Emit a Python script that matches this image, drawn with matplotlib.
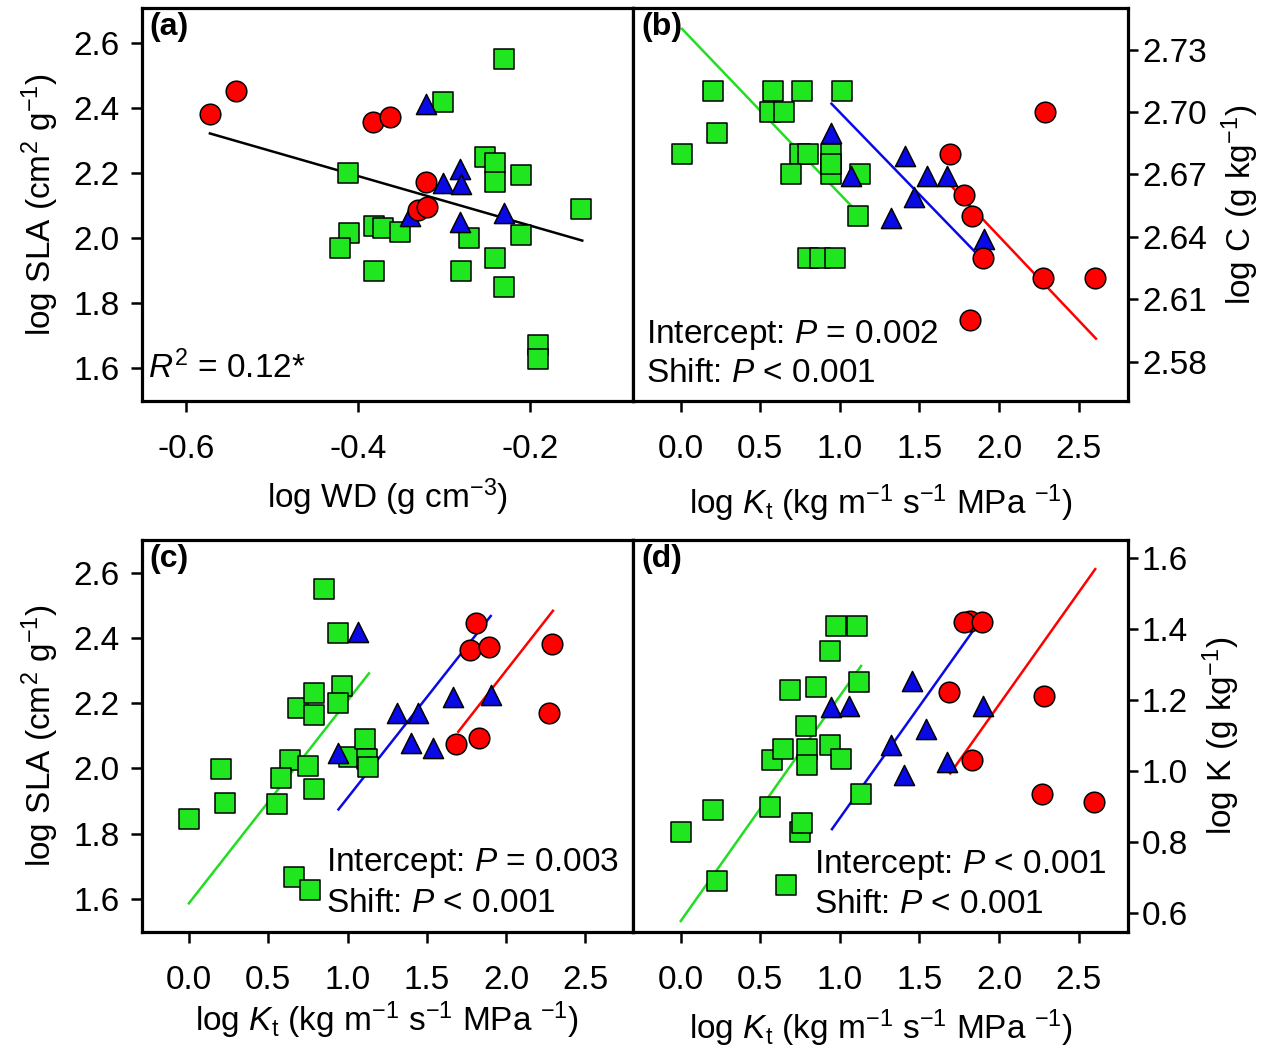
import numpy as np
import matplotlib
matplotlib.use('Agg')
import matplotlib.pyplot as plt

plt.rcParams['font.family'] = ['Liberation Sans', 'DejaVu Sans']
plt.rcParams['mathtext.fontset'] = 'custom'
plt.rcParams['mathtext.rm'] = 'Liberation Sans'
plt.rcParams['mathtext.it'] = 'Liberation Sans:italic'
plt.rcParams['mathtext.bf'] = 'Liberation Sans:bold'

# ---- panel (a): log SLA vs log WD ----
a_red_x = [-0.572, -0.542, -0.382, -0.362, -0.321, -0.330, -0.320]
a_red_y = [2.383, 2.453, 2.357, 2.373, 2.173, 2.086, 2.094]
a_blue_x = [-0.321, -0.301, -0.281, -0.280, -0.339, -0.281, -0.230]
a_blue_y = [2.414, 2.168, 2.214, 2.166, 2.068, 2.050, 2.076]
a_green_x = [-0.230, -0.301, -0.411, -0.252, -0.241, -0.241, -0.210, -0.140,
             -0.381, -0.371, -0.351, -0.410, -0.421, -0.271, -0.210, -0.381,
             -0.280, -0.241, -0.230, -0.190, -0.190]
a_green_y = [2.552, 2.419, 2.199, 2.250, 2.232, 2.173, 2.194, 2.088,
             2.037, 2.030, 2.020, 2.015, 1.968, 1.999, 2.009, 1.897,
             1.897, 1.938, 1.849, 1.672, 1.628]
a_fit_x = [-0.572, -0.139]
a_fit_y = [2.322, 1.992]

# ---- panel (b): log C vs log Kt ----
b_green_x = [0.005, 0.204, 0.229, 0.578, 0.764, 1.013, 0.560, 0.649, 0.751,
             0.802, 0.942, 0.692, 0.942, 1.128, 1.115, 0.802, 0.878, 0.967,
             0.947]
b_green_y = [2.680, 2.710, 2.690, 2.710, 2.710, 2.710, 2.700, 2.700, 2.680,
             2.680, 2.680, 2.670, 2.670, 2.670, 2.650, 2.630, 2.630, 2.630,
             2.675]
b_blue_x = [1.069, 0.947, 1.408, 1.548, 1.675, 1.464, 1.324, 1.904]
b_blue_y = [2.669, 2.690, 2.679, 2.669, 2.669, 2.659, 2.649, 2.639]
b_red_x = [2.291, 1.693, 1.782, 1.833, 1.897, 2.273, 2.602, 1.815]
b_red_y = [2.700, 2.680, 2.660, 2.650, 2.630, 2.620, 2.620, 2.600]
b_fit_green_x = [0.008, 1.082]
b_fit_green_y = [2.740, 2.654]
b_fit_blue_x = [0.947, 1.909]
b_fit_blue_y = [2.704, 2.628]
b_fit_red_x = [1.693, 2.609]
b_fit_red_y = [2.665, 2.591]

# ---- panel (c): log SLA vs log Kt ----
c_green_x = [0.000, 0.200, 0.225, 0.853, 0.943, 0.968, 0.943, 0.686, 0.789,
             0.789, 0.640, 0.579, 0.558, 0.750, 0.789, 1.007, 1.109, 1.122,
             1.130, 0.661, 0.763]
c_green_y = [1.846, 1.997, 1.894, 2.549, 2.416, 2.252, 2.199, 2.184, 2.232,
             2.163, 2.025, 1.969, 1.892, 2.007, 1.938, 2.036, 2.089, 2.030,
             2.003, 1.667, 1.627]
c_blue_x = [0.943, 1.066, 1.314, 1.442, 1.665, 1.903, 1.399, 1.537]
c_blue_y = [2.046, 2.419, 2.171, 2.171, 2.220, 2.225, 2.079, 2.061]
c_red_x = [1.808, 1.775, 1.890, 2.287, 2.269, 1.685, 1.831]
c_red_y = [2.447, 2.363, 2.371, 2.381, 2.171, 2.076, 2.092]
c_fit_green_x = [0.000, 1.135]
c_fit_green_y = [1.586, 2.291]
c_fit_blue_x = [0.943, 1.903]
c_fit_blue_y = [1.874, 2.467]
c_fit_red_x = [1.698, 2.295]
c_fit_red_y = [2.112, 2.483]

# ---- panel (d): log K vs log Kt ----
d_green_x = [0.000, 0.204, 0.229, 0.560, 0.662, 0.573, 0.644, 0.687, 0.848,
             0.789, 0.794, 0.794, 0.751, 0.764, 0.937, 1.006, 0.937, 0.973,
             1.107, 1.120, 1.133]
d_green_y = [0.829, 0.890, 0.689, 0.899, 0.679, 1.030, 1.061, 1.229, 1.238,
             1.128, 1.061, 1.016, 0.829, 0.852, 1.072, 1.033, 1.338, 1.408,
             1.408, 1.250, 0.936]
d_blue_x = [0.942, 1.056, 1.451, 1.540, 1.324, 1.400, 1.673, 1.902]
d_blue_y = [1.179, 1.184, 1.254, 1.119, 1.074, 0.988, 1.025, 1.184]
d_red_x = [1.815, 1.777, 1.892, 1.688, 1.833, 2.284, 2.271, 2.597]
d_red_y = [1.422, 1.420, 1.420, 1.223, 1.030, 1.210, 0.934, 0.913]
d_fit_green_x = [0.000, 1.133]
d_fit_green_y = [0.577, 1.296]
d_fit_blue_x = [0.950, 1.909]
d_fit_blue_y = [0.836, 1.441]
d_fit_red_x = [1.693, 2.604]
d_fit_red_y = [0.993, 1.569]

kt_ticks = [0.0, 0.5, 1.0, 1.5, 2.0, 2.5]
kt_labels = ['0.0', '0.5', '1.0', '1.5', '2.0', '2.5']
wd_ticks = [-0.6, -0.4, -0.2]
wd_labels = ['-0.6', '-0.4', '-0.2']
sla_ticks = [1.6, 1.8, 2.0, 2.2, 2.4, 2.6]
c_ticks = [2.58, 2.61, 2.64, 2.67, 2.70, 2.73]
k_ticks = [0.6, 0.8, 1.0, 1.2, 1.4, 1.6]

GREEN = '#1FE61F'
RED = '#FF0000'
BLUE = '#0A0AE6'
LINE_GREEN = '#22DD22'
FS = 24
KT_LABEL = r'log $K_{\mathrm{t}}$ (kg m$^{-1}$ s$^{-1}$ MPa $^{-1}$)'


def style_axes(ax, right=False):
    for s in ax.spines.values():
        s.set_linewidth(2.3)
    ax.tick_params(direction='out', length=8, width=1.8, labelsize=FS)
    ax.tick_params(axis='x', top=False, pad=16)
    if right:
        ax.yaxis.tick_right()
        ax.yaxis.set_label_position('right')
        ax.tick_params(axis='y', left=False, right=True, length=7, pad=3)
    else:
        ax.tick_params(axis='y', right=False, pad=8)


def draw_points(ax, gx, gy, bx, by, rx, ry):
    ax.scatter(gx, gy, marker='s', s=200, c=GREEN, edgecolors='black',
               linewidths=1.1, zorder=3)
    ax.scatter(bx, by, marker='^', s=210, c=BLUE, edgecolors='black',
               linewidths=1.1, zorder=3)
    ax.scatter(rx, ry, marker='o', s=220, c=RED, edgecolors='black',
               linewidths=1.1, zorder=3)


def panel_tag(ax, tag):
    ax.text(0.016, 0.99, tag, transform=ax.transAxes, fontsize=23,
            fontweight='bold', va='top', ha='left')


fig = plt.figure(figsize=(12.64, 10.49), dpi=100)
ax_a = fig.add_axes([0.1123, 0.6177, 0.3885, 0.3746])
ax_b = fig.add_axes([0.5008, 0.6177, 0.3916, 0.3746])
ax_c = fig.add_axes([0.1123, 0.1115, 0.3885, 0.3737])
ax_d = fig.add_axes([0.5008, 0.1115, 0.3916, 0.3737])

# (a)
style_axes(ax_a)
ax_a.plot(a_fit_x, a_fit_y, color='black', lw=1.8, zorder=2)
draw_points(ax_a, a_green_x, a_green_y, a_blue_x, a_blue_y, a_red_x, a_red_y)
ax_a.set_xlim(-0.651, -0.08)
ax_a.set_ylim(1.498, 2.708)
ax_a.set_xticks(wd_ticks, wd_labels)
ax_a.set_yticks(sla_ticks)
ax_a.set_xlabel(r'log WD (g cm$^{-3}$)', fontsize=FS, labelpad=8)
ax_a.set_ylabel(r'log SLA (cm$^2$ g$^{-1}$)', fontsize=FS, labelpad=9)
ax_a.text(0.012, 0.084, r'$R^2$ = 0.12*', transform=ax_a.transAxes,
          fontsize=FS, va='center', ha='left')
panel_tag(ax_a, '(a)')

# (b)
style_axes(ax_b, right=True)
ax_b.plot(b_fit_green_x, b_fit_green_y, color=LINE_GREEN, lw=1.8, zorder=2)
ax_b.plot(b_fit_blue_x, b_fit_blue_y, color=BLUE, lw=1.8, zorder=2)
ax_b.plot(b_fit_red_x, b_fit_red_y, color=RED, lw=1.8, zorder=2)
draw_points(ax_b, b_green_x, b_green_y, b_blue_x, b_blue_y, b_red_x, b_red_y)
ax_b.set_xlim(-0.30, 2.81)
ax_b.set_ylim(2.561, 2.750)
ax_b.set_xticks(kt_ticks, kt_labels)
ax_b.set_yticks(c_ticks, ['%.2f' % v for v in c_ticks])
ax_b.set_xlabel(KT_LABEL, fontsize=FS, labelpad=12)
ax_b.set_ylabel(r'log C (g kg$^{-1}$)', fontsize=FS, labelpad=9)
ax_b.text(0.026, 0.168, r'Intercept: $P$ = 0.002', transform=ax_b.transAxes,
          fontsize=FS, va='center', ha='left')
ax_b.text(0.026, 0.071, r'Shift: $P$ < 0.001', transform=ax_b.transAxes,
          fontsize=FS, va='center', ha='left')
panel_tag(ax_b, '(b)')

# (c)
style_axes(ax_c)
ax_c.plot(c_fit_green_x, c_fit_green_y, color=LINE_GREEN, lw=1.8, zorder=2)
ax_c.plot(c_fit_blue_x, c_fit_blue_y, color=BLUE, lw=1.8, zorder=2)
ax_c.plot(c_fit_red_x, c_fit_red_y, color=RED, lw=1.8, zorder=2)
draw_points(ax_c, c_green_x, c_green_y, c_blue_x, c_blue_y, c_red_x, c_red_y)
ax_c.set_xlim(-0.296, 2.80)
ax_c.set_ylim(1.498, 2.70)
ax_c.set_xticks(kt_ticks, kt_labels)
ax_c.set_yticks(sla_ticks)
ax_c.set_xlabel(KT_LABEL, fontsize=FS, labelpad=2)
ax_c.set_ylabel(r'log SLA (cm$^2$ g$^{-1}$)', fontsize=FS, labelpad=9)
ax_c.text(0.375, 0.176, r'Intercept: $P$ = 0.003', transform=ax_c.transAxes,
          fontsize=FS, va='center', ha='left', clip_on=False, zorder=5)
ax_c.text(0.375, 0.074, r'Shift: $P$ < 0.001', transform=ax_c.transAxes,
          fontsize=FS, va='center', ha='left')
panel_tag(ax_c, '(c)')

# (d)
style_axes(ax_d, right=True)
ax_d.plot(d_fit_green_x, d_fit_green_y, color=LINE_GREEN, lw=1.8, zorder=2)
ax_d.plot(d_fit_blue_x, d_fit_blue_y, color=BLUE, lw=1.8, zorder=2)
ax_d.plot(d_fit_red_x, d_fit_red_y, color=RED, lw=1.8, zorder=2)
draw_points(ax_d, d_green_x, d_green_y, d_blue_x, d_blue_y, d_red_x, d_red_y)
ax_d.set_xlim(-0.30, 2.81)
ax_d.set_ylim(0.546, 1.651)
ax_d.set_xticks(kt_ticks, kt_labels)
ax_d.set_yticks(k_ticks)
ax_d.set_xlabel(KT_LABEL, fontsize=FS, labelpad=8)
ax_d.set_ylabel(r'log K (g kg$^{-1}$)', fontsize=FS, labelpad=9)
ax_d.text(0.366, 0.171, r'Intercept: $P$ < 0.001', transform=ax_d.transAxes,
          fontsize=FS, va='center', ha='left')
ax_d.text(0.366, 0.069, r'Shift: $P$ < 0.001', transform=ax_d.transAxes,
          fontsize=FS, va='center', ha='left')
panel_tag(ax_d, '(d)')

fig.savefig('out.png', dpi=100)
plt.close(fig)
